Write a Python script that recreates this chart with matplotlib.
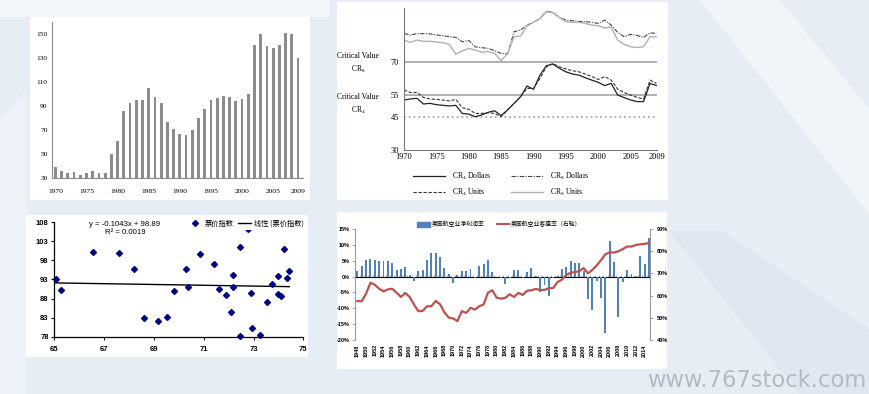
import matplotlib.pyplot as plt
import matplotlib.patches as mpatches
from matplotlib.lines import Line2D
import numpy as np

plt.rcParams['mathtext.fontset'] = 'stix'

W, H = 870, 394

# ---------------- data ----------------
# top-left bar chart (1970-2009)
bar_years = np.arange(1970, 2010)
bar_vals = [39, 36, 34, 35, 33, 34, 36, 34, 34, 50,
            61, 86, 92.5, 95, 95, 105.5, 97.5, 92.5, 77, 71.4,
            67, 66, 70, 80, 88, 95, 96.7, 98.6, 97.5, 94,
            96, 100, 141, 150, 140, 138.6, 141, 151, 150, 130]

# top-right concentration ratios (1970-2009)
cr_years = np.arange(1970, 2010)
cr8_dollars = [83.2, 82.5, 83.1, 83.1, 83.0, 82.5, 82.2, 81.7, 81.4, 79.4,
               80.0, 77.1, 76.7, 76.4, 75.3, 74.1, 73.8, 84.0, 84.8, 87.0,
               88.3, 90.0, 93.4, 92.7, 90.5, 89.3, 89.0, 88.7, 88.6, 88.3,
               87.8, 89.3, 87.0, 83.7, 81.7, 82.8, 82.3, 81.4, 83.5, 83.2]
cr8_units = [80.2, 79.1, 80.2, 79.6, 79.6, 79.3, 79.0, 78.2, 73.7, 75.2,
             76.4, 75.6, 74.6, 74.9, 74.1, 70.8, 74.1, 81.7, 82.0, 86.6,
             88.3, 90.0, 93.1, 92.7, 90.5, 88.6, 88.3, 88.3, 87.8, 87.0,
             86.7, 85.7, 86.2, 80.2, 78.2, 77.1, 76.8, 77.1, 81.7, 81.7]
cr4_dollars = [52.8, 53.3, 53.6, 51.0, 51.3, 50.7, 50.4, 50.1, 50.4, 46.7,
               46.4, 45.2, 46.0, 47.2, 47.9, 45.7, 48.3, 51.3, 54.3, 59.2,
               57.7, 64.2, 68.5, 69.2, 67.3, 65.7, 64.7, 64.2, 63.0, 61.9,
               60.9, 59.4, 60.4, 55.1, 53.9, 52.8, 52.1, 52.1, 60.4, 59.4]
cr4_units = [57.4, 56.2, 56.3, 54.0, 53.3, 53.1, 52.8, 52.4, 53.1, 49.3,
             48.6, 46.7, 46.7, 47.0, 46.7, 45.2, 48.3, 51.3, 54.3, 58.1,
             58.1, 62.7, 68.0, 69.5, 68.0, 67.0, 66.2, 65.7, 64.7, 63.5,
             62.2, 63.5, 61.9, 57.8, 56.2, 55.1, 54.0, 53.3, 61.9, 60.4]
critical_levels = [70, 55, 45]

# bottom-left scatter
fare_x = [65.05, 65.25, 66.57, 67.6, 68.21, 68.6, 69.16, 69.52, 69.82, 70.29,
          70.36, 70.86, 71.43, 71.63, 71.89, 72.09, 72.16, 72.19, 72.45, 72.45,
          72.76, 72.88, 72.92, 73.25, 73.53, 73.73, 73.97, 73.97, 74.1, 74.24,
          74.33, 74.44]
fare_y = [93.1, 90.2, 100.2, 99.9, 95.8, 82.8, 82.1, 83.2, 90.0, 95.7,
          91.0, 99.6, 97.1, 90.6, 88.9, 84.5, 91.1, 94.2, 101.4, 78.3,
          106.3, 89.5, 80.2, 78.4, 87.2, 91.8, 93.9, 89.1, 88.7, 101.1,
          93.4, 95.3]
trend_slope, trend_intercept = -0.1043, 98.89

# bottom-right airline margin / load factor (1948-2015)
air_years = np.arange(1948, 2016)
net_margin = [1.9, 3.4, 5.3, 5.5, 5.2, 4.8, 4.8, 4.8, 4.3, 2.1,
              2.3, 2.9, 0.4, -1.3, 1.6, 2.1, 5.3, 7.5, 7.5, 6.1,
              2.7, 0.8, -2.1, 0.4, 1.9, 1.9, 2.3, -0.3, 3.4, 4.0,
              5.3, 1.4, -0.2, -0.6, -2.3, -0.3, 2.1, 2.1, -0.3, 1.3,
              2.8, 0.3, -5.0, -2.6, -6.1, -0.4, 0.3, 2.4, 2.9, 4.8,
              4.2, 4.4, 1.8, -7.0, -10.5, -1.4, -6.6, -17.9, 11.2, 4.5,
              -12.6, -1.6, 2.1, 0.7, 0.3, 6.4, 4.0, 12.3]
load_factor = [57.5, 57.5, 60.9, 65.8, 64.9, 63.1, 61.9, 62.8, 63.1, 61.3,
               59.4, 61.2, 59.4, 56.0, 53.0, 53.1, 55.2, 55.2, 57.6, 56.1,
               52.4, 50.1, 49.7, 48.5, 53.0, 52.2, 54.5, 53.7, 55.2, 56.0,
               61.3, 62.4, 59.1, 58.6, 59.0, 60.6, 59.4, 61.2, 60.3, 62.2,
               62.4, 63.0, 62.5, 62.6, 63.3, 63.4, 66.1, 67.2, 69.3, 70.3,
               70.6, 71.0, 72.4, 70.0, 71.6, 73.6, 76.0, 78.6, 79.5, 79.4,
               80.0, 81.0, 82.1, 82.1, 82.8, 83.1, 83.3, 83.7]

SERIF = 'Liberation Serif'
SANS = 'Liberation Sans'
CJK = ['Noto Sans CJK SC', 'DejaVu Sans']

fig = plt.figure(figsize=(8.7, 3.94), dpi=100)
fig.patch.set_facecolor('#e6edf5')


def fpoly(pts, color):
    fig.patches.append(mpatches.Polygon([(x / W, 1 - y / H) for x, y in pts], closed=True,
                                        transform=fig.transFigure, facecolor=color,
                                        edgecolor='none', zorder=-2))


def box(x0, y0, x1, y1):
    fig.patches.append(mpatches.Rectangle((x0 / W, 1 - y1 / H), (x1 - x0) / W, (y1 - y0) / H,
                                          transform=fig.transFigure, facecolor='white',
                                          edgecolor='none', zorder=-1))


def axes_px(x0, y0, x1, y1):
    ax = fig.add_axes([x0 / W, 1 - y1 / H, (x1 - x0) / W, (y1 - y0) / H])
    ax.set_facecolor('none')
    return ax


# background decoration
fpoly([(0, 0), (330, 0), (330, 17), (0, 17)], '#f3f6fa')
fpoly([(700, 0), (780, 0), (870, 110), (870, 215)], '#f1f5f9')
fpoly([(668, 230), (720, 230), (870, 330), (870, 394), (800, 394)], '#dfe7f1')
fpoly([(0, 120), (26, 90), (26, 394), (0, 394)], '#edf2f8')

box(30, 17, 310, 200)
box(337, 2, 668, 200)
box(26, 215, 308, 357)
box(337, 212, 667, 369)

# ---------------- top-left ----------------
ax1 = axes_px(52.3, 22, 303, 178.3)
ax1.bar(bar_years, bar_vals, width=0.45, color='#8c8c8c')
ax1.set_xlim(1969.5, 2009.8)
ax1.set_ylim(30, 160)
ax1.set_yticks(range(30, 151, 20))
ax1.set_xticks(list(range(1970, 2006, 5)) + [2009])
for s in ['top', 'right']:
    ax1.spines[s].set_visible(False)
for s in ['left', 'bottom']:
    ax1.spines[s].set_color('#8a8a8a')
    ax1.spines[s].set_linewidth(0.8)
ax1.tick_params(axis='y', length=0, pad=3.3, labelsize=5.4)
ax1.tick_params(axis='x', length=0, pad=7.5, labelsize=5.4)
for lab in ax1.get_xticklabels() + ax1.get_yticklabels():
    lab.set_family(SERIF)

# ---------------- top-right ----------------
ax2 = axes_px(404, 7.6, 656.5, 150)
for lvl, ls in zip(critical_levels, ['-', '-', ':']):
    ax2.axhline(lvl, color='#a9a9a9', lw=1.3, ls=ls, zorder=1)
l1, = ax2.plot(cr_years, cr4_dollars, color='#222222', lw=0.9, label=r'CR$_4$ Dollars')
l2, = ax2.plot(cr_years, cr4_units, color='#333333', lw=0.8, ls=(0, (3, 1.5)), label=r'CR$_4$ Units')
l3, = ax2.plot(cr_years, cr8_dollars, color='#444444', lw=0.8, ls=(0, (4, 1.2, 1, 1.2)), label=r'CR$_8$ Dollars')
l4, = ax2.plot(cr_years, cr8_units, color='#b0b0b0', lw=1.0, label=r'CR$_8$ Units')
ax2.set_xlim(1970, 2009)
ax2.set_ylim(30, 95)
ax2.set_yticks([30, 45, 55, 70])
ax2.set_xticks(list(range(1970, 2006, 5)) + [2009])
for s in ['top', 'right']:
    ax2.spines[s].set_visible(False)
for s in ['left', 'bottom']:
    ax2.spines[s].set_color('#777777')
    ax2.spines[s].set_linewidth(0.8)
ax2.tick_params(axis='both', length=0, labelsize=6)
ax2.tick_params(axis='y', pad=3.5)
ax2.tick_params(axis='x', pad=2.5)
for lab in ax2.get_xticklabels() + ax2.get_yticklabels():
    lab.set_family(SERIF)
ax2.get_yticklabels()[0].set_va('center_baseline')
ax2.text(-0.182, 69.6, 'Critical Value\nCR$_8$', transform=ax2.get_yaxis_transform(),
         ha='center', va='center', fontsize=5.5, family=SERIF, linespacing=1.5)
ax2.text(-0.182, 50.6, 'Critical Value\nCR$_4$', transform=ax2.get_yaxis_transform(),
         ha='center', va='center', fontsize=5.5, family=SERIF, linespacing=1.5)
leg2 = ax2.legend(handles=[l1, l2, l3, l4], ncol=2, loc='center',
                  bbox_to_anchor=(0.385, -0.242), frameon=False,
                  prop={'family': SERIF, 'size': 5.5}, handlelength=4.2,
                  handletextpad=0.9, columnspacing=2.6, labelspacing=0.6)

# ---------------- bottom-left ----------------
ax3 = axes_px(54.3, 222.3, 303.3, 336.7)
ax3.plot(fare_x, fare_y, ls='none', marker='D', ms=3, color='#000080', zorder=3, clip_on=False)
tx = np.array([min(fare_x), max(fare_x)])
ax3.plot(tx, trend_slope * tx + trend_intercept, color='black', lw=1.0, zorder=2)
ax3.set_xlim(65, 75)
ax3.set_ylim(78, 108)
ax3.set_xticks(range(65, 76, 2))
ax3.set_yticks(range(78, 109, 5))
for s in ['top', 'right']:
    ax3.spines[s].set_visible(False)
for s in ['left', 'bottom']:
    ax3.spines[s].set_color('black')
    ax3.spines[s].set_linewidth(0.9)
ax3.tick_params(axis='both', length=2.5, width=0.8, labelsize=5.5)
ax3.tick_params(axis='x', pad=4)
ax3.tick_params(axis='y', pad=1.5)
for lab in ax3.get_xticklabels() + ax3.get_yticklabels():
    lab.set_family(SANS)
    lab.set_weight('bold')
ax3.text(0.284, 0.985, 'y = -0.1043x + 98.89', transform=ax3.transAxes, ha='center',
         va='center', fontsize=5.6, family=SANS)
ax3.text(0.284, 0.912, 'R² = 0.0019', transform=ax3.transAxes, ha='center',
         va='center', fontsize=5.6, family=SANS)
h_pts = Line2D([], [], ls='none', marker='D', ms=3, color='#000080')
h_trend = Line2D([], [], color='black', lw=1.0)
leg3 = ax3.legend([h_pts, h_trend], ['票价指数', '线性 (票价指数)'], ncol=2, loc='center right',
                  bbox_to_anchor=(1.025, 0.985), frameon=True, facecolor='white',
                  edgecolor='none', framealpha=1, fancybox=False, borderpad=0.3,
                  prop={'family': CJK, 'size': 5.2}, handlelength=1.8,
                  handletextpad=0.4, columnspacing=0.6, numpoints=1)
leg3.set_zorder(5)

# ---------------- bottom-right ----------------
ax4 = axes_px(355, 229, 650, 340)
xs = np.arange(len(air_years))
ax4.bar(xs, net_margin, width=0.45, color='#4f81bd', zorder=2)
ax4.set_xlim(-0.55, len(air_years) - 0.75)
ax4.set_ylim(-20, 15)
ax4.set_yticks(range(-20, 16, 5))
ax4.set_yticklabels([f'{v}%' for v in range(-20, 16, 5)])
ax4.set_xticks(xs[::2])
ax4.set_xticklabels([str(y) for y in air_years[::2]], rotation=90)
for s in ['top', 'bottom', 'right']:
    ax4.spines[s].set_visible(False)
ax4.spines['left'].set_color('#999999')
ax4.tick_params(axis='y', length=2, width=0.6, color='#999999', labelsize=4, pad=1.5)
ax4.tick_params(axis='x', length=0, labelsize=4, pad=3)
for lab in ax4.get_xticklabels() + ax4.get_yticklabels():
    lab.set_family(SANS)
    lab.set_weight('bold')

zero_ax = ax4.secondary_xaxis(20 / 35)
zero_ax.set_xticks(np.arange(-0.5, len(air_years), 1))
zero_ax.set_xticklabels([])
zero_ax.tick_params(axis='x', length=1.5, width=0.5, color='#999999',
                    labelbottom=False, labeltop=False)
zero_ax.spines['bottom'].set_color('#999999')
zero_ax.spines['bottom'].set_linewidth(0.8)

ax4r = ax4.twinx()
ax4r.set_facecolor('none')
ax4r.plot(xs, load_factor, color='#c0504d', lw=1.6, zorder=3)
ax4r.set_ylim(40, 90)
ax4r.set_yticks(range(40, 91, 10))
ax4r.set_yticklabels([f'{v}%' for v in range(40, 91, 10)])
for s in ['top', 'bottom', 'left']:
    ax4r.spines[s].set_visible(False)
ax4r.spines['right'].set_color('#999999')
ax4r.tick_params(axis='y', length=2, width=0.6, color='#999999', labelsize=4, pad=3)
for lab in ax4r.get_yticklabels():
    lab.set_family(SANS)
    lab.set_weight('bold')

h_bar = mpatches.Patch(color='#4f81bd')
h_lf = Line2D([], [], color='#c0504d', lw=1.5)
ax4r.legend([h_bar, h_lf], ['美国航空业净利润率', '美国航空业客座率（右轴）'], ncol=2,
            loc='center', bbox_to_anchor=(0.49, 1.045), frameon=False,
            prop={'family': CJK, 'size': 4.2}, handlelength=2.2, handleheight=0.9,
            handletextpad=0.3, columnspacing=2.0)

# watermark
fig.text(647 / W, 1 - 387 / H, 'www.767stock.com', fontsize=16.3, color='#b5bac1',
         family='DejaVu Sans', va='baseline', ha='left', zorder=10)

fig.savefig('out.png', dpi=100, facecolor=fig.get_facecolor())
